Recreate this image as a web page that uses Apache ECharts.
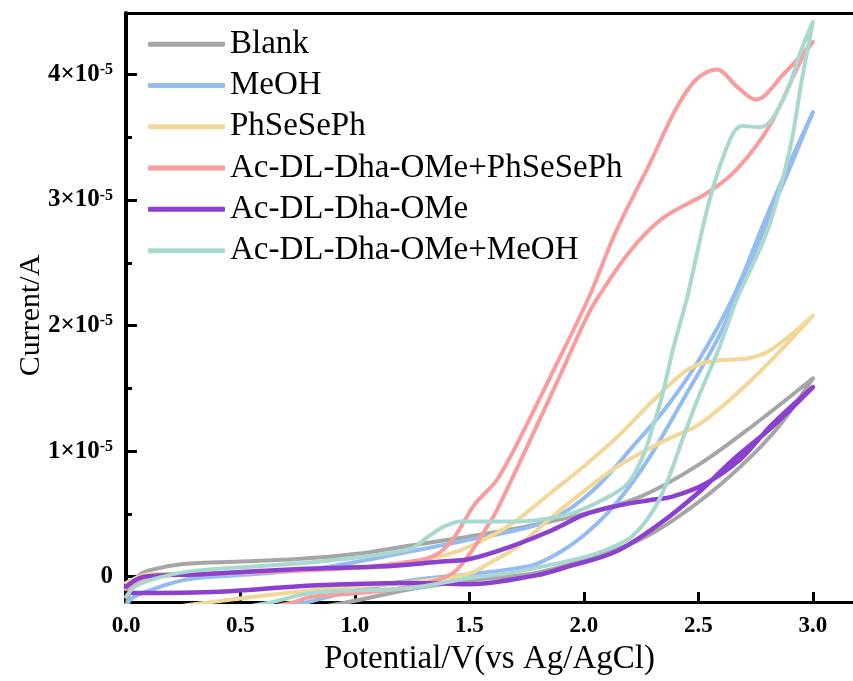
<!DOCTYPE html>
<html>
<head>
<meta charset="utf-8">
<script src="https://cdn.jsdelivr.net/npm/echarts@6/dist/echarts.min.js"></script>
<style>
html,body{margin:0;padding:0;background:#fff;}
#chart{width:853px;height:681px;}
</style>
</head>
<body>
<div id="chart"></div>
<script>
// Current values are in units of 1e-5 A; potentials in V (vs Ag/AgCl)
const seriesNames = ['Blank','MeOH','PhSeSePh','Ac-DL-Dha-OMe+PhSeSePh','Ac-DL-Dha-OMe','Ac-DL-Dha-OMe+MeOH'];
const colors = ['#a6a6a6','#94bcf0','#f2d898','#f99c9c','#8c40d0','#a9d8cf'];

const blankV = [0,0.02,0.05,0.1,0.25,0.5,0.75,1.0,1.25,1.5,1.75,2.0,2.25,2.5,2.75,3.0, 2.82,2.6,2.39,2.24,2.08,1.79,1.5,1.24,0.95,0.6,0.3,0.0];
const blankI = [-0.25,-0.1,0.0,0.05,0.1,0.12,0.14,0.18,0.25,0.32,0.4,0.5,0.64,0.89,1.22,1.58, 1.13,0.74,0.45,0.29,0.18,0.03,-0.03,-0.1,-0.21,-0.32,-0.4,-0.45];

const meohV = [0,0.02,0.12,0.27,0.56,0.85,1.24,1.46,1.68,1.79,1.93,2.07,2.21,2.36,2.5,2.65,2.8,2.9,3.0, 2.9,2.8,2.66,2.58,2.43,2.3,2.2,2.1,2.0,1.9,1.79,1.68,1.5,1.24,1.0,0.8,0.5,0.0];
const meohI = [-0.3,-0.18,-0.1,-0.02,0.02,0.07,0.2,0.28,0.36,0.41,0.53,0.74,1.03,1.35,1.72,2.22,2.88,3.3,3.7, 3.26,2.83,2.2,1.88,1.4,0.99,0.72,0.5,0.33,0.2,0.1,0.06,0.02,-0.03,-0.11,-0.2,-0.32,-0.45];

const phseV = [0,0.1,0.5,1.0,1.2,1.32,1.46,1.6,1.7,1.85,2.0,2.15,2.29,2.43,2.5,2.58,2.65,2.72,2.8,2.9,3.0, 2.8,2.65,2.5,2.36,2.14,1.93,1.8,1.71,1.6,1.49,1.2,0.85,0.34,0.0];
const phseI = [-0.05,0.02,0.03,0.07,0.09,0.14,0.21,0.33,0.44,0.66,0.88,1.12,1.38,1.62,1.69,1.72,1.73,1.74,1.79,1.92,2.08, 1.69,1.43,1.21,1.09,0.87,0.58,0.38,0.24,0.12,0.02,-0.05,-0.1,-0.21,-0.3];

const dhaPhseV = [0,0.1,0.5,1.0,1.28,1.36,1.42,1.47,1.52,1.57,1.62,1.7,1.85,2.02,2.14,2.29,2.4,2.49,2.58,2.67,2.75,2.87,3.0, 2.95,2.81,2.67,2.55,2.34,2.2,2.06,2.01,1.89,1.62,1.55,1.5,1.42,1.24,1.02,0.81,0.72,0.5,0.0];
const dhaPhseI = [-0.1,0.0,0.03,0.07,0.13,0.18,0.28,0.42,0.57,0.67,0.77,1.03,1.58,2.22,2.75,3.3,3.72,3.96,4.04,3.9,3.8,4.0,4.26, 4.12,3.59,3.25,3.07,2.85,2.59,2.22,2.06,1.58,0.53,0.32,0.18,0.02,-0.08,-0.13,-0.16,-0.21,-0.28,-0.35];

const dhaV = [0,0.08,0.33,0.76,1.1,1.38,1.5,1.68,1.86,2.01,2.16,2.29,2.39,2.53,2.68,2.82,3.0, 2.82,2.65,2.5,2.33,2.14,1.93,1.79,1.5,1.24,0.81,0.41,0.03];
const dhaI = [-0.08,0.0,0.02,0.06,0.08,0.12,0.14,0.24,0.37,0.5,0.57,0.61,0.64,0.74,0.93,1.21,1.51, 1.19,0.93,0.67,0.42,0.2,0.08,0.01,-0.06,-0.05,-0.07,-0.12,-0.13];

const dhaMeohV = [0,0.04,0.12,0.27,0.56,0.85,1.24,1.32,1.39,1.46,1.53,1.68,1.79,1.94,2.08,2.19,2.26,2.3,2.34,2.39,2.45,2.55,2.64,2.69,2.77,2.87,2.95,3.0, 2.95,2.9,2.8,2.67,2.59,2.5,2.43,2.36,2.3,2.21,2.13,2.01,1.79,1.68,1.5,1.24,0.81,0.62,0.3,0.0];
const dhaMeohI = [-0.16,-0.08,-0.02,0.04,0.08,0.12,0.22,0.32,0.4,0.44,0.44,0.44,0.45,0.5,0.61,0.74,0.97,1.19,1.43,1.82,2.22,3.01,3.49,3.59,3.58,3.8,4.2,4.42, 3.94,3.41,2.75,2.22,1.82,1.43,1.09,0.74,0.52,0.32,0.24,0.16,0.07,0.03,-0.01,-0.09,-0.13,-0.21,-0.3,-0.35];

const xTickValues = [0,0.5,1.0,1.5,2.0,2.5,3.0];
const yTickValues = [0,1,2,3,4];
const yMinorValues = [0.5,1.5,2.5,3.5];

const allV = [blankV, meohV, phseV, dhaPhseV, dhaV, dhaMeohV];
const allI = [blankI, meohI, phseI, dhaPhseI, dhaI, dhaMeohI];

const FONT = '"Liberation Serif","Times New Roman",serif';
const X_MIN = 0, X_MAX = 3.175, Y_MIN = -0.202, Y_MAX = 4.49;

const series = seriesNames.map((name, k) => ({
  name: name,
  type: 'line',
  xAxisIndex: 0,
  yAxisIndex: 0,
  data: allV[k].map((v, i) => [v, allI[k][i]]),
  showSymbol: false,
  symbol: 'none',
  smooth: 0.35,
  lineStyle: { color: colors[k], width: k === 4 ? 4.5 : 4, cap: 'round', join: 'round' },
  itemStyle: { color: colors[k] },
  clip: true,
  z: 2 + k
}));

const chart = echarts.init(document.getElementById('chart'), null, { renderer: 'canvas' });
chart.setOption({
  animation: false,
  backgroundColor: '#fff',
  grid: { left: 126, right: 0, top: 13, bottom: 75.5, containLabel: false },
  legend: {
    data: seriesNames,
    orient: 'vertical',
    left: 143,
    top: 18.5,
    icon: 'roundRect',
    itemWidth: 77,
    itemHeight: 5,
    itemGap: 0,
    textStyle: { fontFamily: FONT, fontSize: 33, color: '#000', lineHeight: 41.3, padding: [0, 0, 0, 0] },
    selectedMode: false
  },
  xAxis: [{
    type: 'value',
    min: X_MIN, max: X_MAX,
    position: 'bottom',
    name: 'Potential/V(vs Ag/AgCl)',
    nameLocation: 'middle',
    nameGap: 41,
    nameMoveOverlap: false,
    nameTextStyle: { fontFamily: FONT, fontSize: 33, color: '#000' },
    axisLine: { show: true, onZero: false, lineStyle: { color: '#000', width: 3 } },
    axisTick: { show: true, inside: true, length: 10, lineStyle: { color: '#000', width: 3 }, customValues: xTickValues },
    axisLabel: { show: true, margin: 13, fontFamily: FONT, fontSize: 23, fontWeight: 'bold', color: '#000',
      customValues: xTickValues, formatter: v => v.toFixed(1) },
    splitLine: { show: false }
  }, {
    type: 'value',
    min: X_MIN, max: X_MAX,
    position: 'top',
    axisLine: { show: true, onZero: false, lineStyle: { color: '#000', width: 3 } },
    axisTick: { show: false },
    axisLabel: { show: false },
    splitLine: { show: false }
  }],
  yAxis: [{
    type: 'value',
    min: Y_MIN, max: Y_MAX,
    position: 'left',
    name: 'Current/A',
    nameLocation: 'middle',
    nameGap: 80,
    nameMoveOverlap: false,
    nameTextStyle: { fontFamily: FONT, fontSize: 30, color: '#000', padding: [0, 16, 0, 0] },
    axisLine: { show: true, onZero: false, lineStyle: { color: '#000', width: 4 } },
    axisTick: { show: true, inside: true, length: 11, lineStyle: { color: '#000', width: 3 }, customValues: yTickValues },
    axisLabel: {
      show: true, margin: 13, customValues: yTickValues,
      formatter: v => v === 0 ? '{n|0}' : '{n|' + v + '×10}{s|-5}',
      rich: {
        n: { fontFamily: FONT, fontSize: 25, fontWeight: 'bold', color: '#000', verticalAlign: 'bottom' },
        s: { fontFamily: FONT, fontSize: 16, fontWeight: 'bold', color: '#000', verticalAlign: 'top', padding: [0, 0, 9, 0] }
      }
    },
    splitLine: { show: false }
  }, {
    type: 'value',
    min: Y_MIN, max: Y_MAX,
    position: 'left',
    axisLine: { show: false, onZero: false },
    axisTick: { show: true, inside: true, length: 6, lineStyle: { color: '#000', width: 3 }, customValues: yMinorValues },
    axisLabel: { show: false },
    splitLine: { show: false }
  }],
  series: series
});
</script>
</body>
</html>
